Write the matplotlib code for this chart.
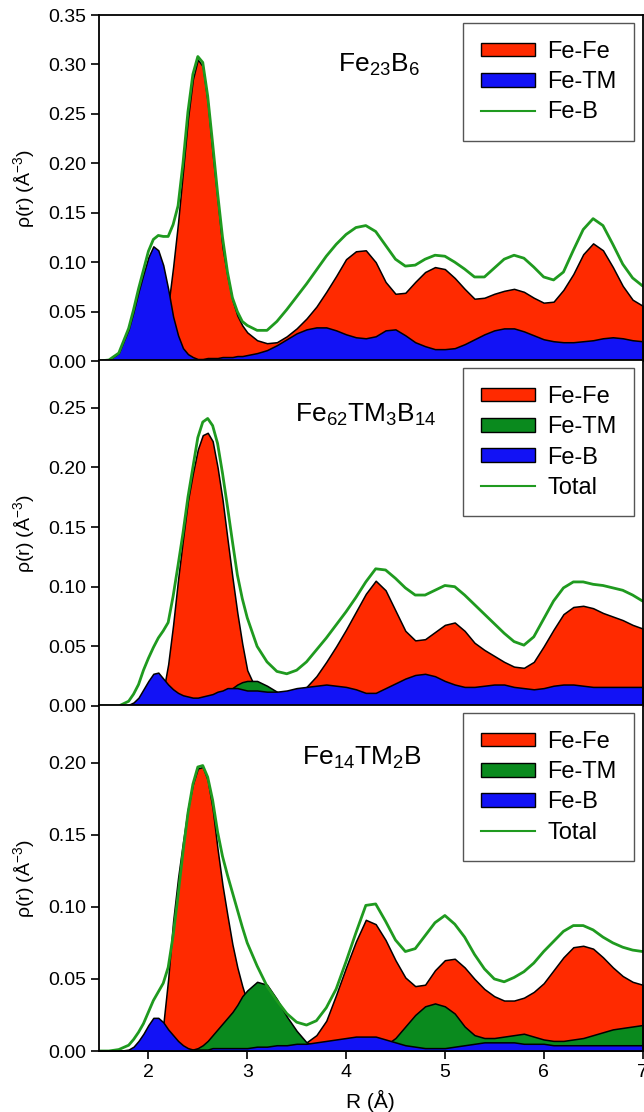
import numpy as np
import matplotlib
matplotlib.use("Agg")
import matplotlib.pyplot as plt
from matplotlib.patches import Patch
from matplotlib.lines import Line2D

plt.rcParams['font.family'] = ['Liberation Sans', 'DejaVu Sans']
plt.rcParams['mathtext.default'] = 'regular'

# ---------------- data ----------------
r = [1.5, 1.6, 1.7, 1.8, 1.85, 1.9, 1.95, 2.0, 2.05, 2.1, 2.15, 2.2, 2.25, 2.3, 2.35,
     2.4, 2.45, 2.5, 2.55, 2.6, 2.65, 2.7, 2.75, 2.8, 2.85, 2.9, 2.95, 3.0, 3.1, 3.2,
     3.3, 3.4, 3.5, 3.6, 3.7, 3.8, 3.9, 4.0, 4.1, 4.2, 4.3, 4.4, 4.5, 4.6, 4.7, 4.8,
     4.9, 5.0, 5.1, 5.2, 5.3, 5.4, 5.5, 5.6, 5.7, 5.8, 5.9, 6.0, 6.1, 6.2, 6.3, 6.4,
     6.5, 6.6, 6.7, 6.8, 6.9, 7.0]

# Fe23B6
p1_fefe = [0, 0, 0, 0, 0, 0, 0.001, 0.002, 0.005, 0.012, 0.028, 0.055, 0.095, 0.14, 0.192,
           0.245, 0.285, 0.305, 0.298, 0.262, 0.21, 0.163, 0.115, 0.086, 0.062, 0.046, 0.036, 0.029, 0.021, 0.018,
           0.019, 0.025, 0.033, 0.043, 0.055, 0.07, 0.086, 0.103, 0.111, 0.112, 0.1, 0.08, 0.068, 0.069, 0.08, 0.09,
           0.095, 0.093, 0.084, 0.073, 0.063, 0.064, 0.068, 0.071, 0.073, 0.07, 0.064, 0.059, 0.06, 0.072, 0.088, 0.108,
           0.119, 0.112, 0.095, 0.076, 0.062, 0.056]
p1_fetm = [0, 0.001, 0.008, 0.032, 0.05, 0.07, 0.088, 0.105, 0.116, 0.112, 0.097, 0.073, 0.045, 0.026, 0.013,
           0.007, 0.004, 0.002, 0.002, 0.003, 0.003, 0.003, 0.004, 0.004, 0.004, 0.005, 0.005, 0.006, 0.008, 0.011,
           0.016, 0.022, 0.028, 0.032, 0.034, 0.034, 0.031, 0.027, 0.024, 0.023, 0.025, 0.031, 0.032, 0.026, 0.019, 0.015,
           0.012, 0.012, 0.013, 0.017, 0.022, 0.027, 0.031, 0.033, 0.033, 0.030, 0.026, 0.022, 0.020, 0.019, 0.019, 0.020,
           0.021, 0.023, 0.024, 0.023, 0.021, 0.020]
p1_total = [0, 0.001, 0.008, 0.033, 0.052, 0.073, 0.092, 0.111, 0.123, 0.127, 0.126, 0.126, 0.138, 0.157, 0.2,
            0.252, 0.29, 0.308, 0.302, 0.268, 0.22, 0.17, 0.125, 0.09, 0.064, 0.05, 0.04, 0.036, 0.031, 0.031,
            0.04, 0.052, 0.065, 0.078, 0.092, 0.106, 0.118, 0.128, 0.135, 0.137, 0.131, 0.117, 0.103, 0.096, 0.097, 0.103,
            0.107, 0.106, 0.1, 0.093, 0.085, 0.085, 0.094, 0.103, 0.107, 0.104, 0.095, 0.085, 0.082, 0.09, 0.112, 0.133,
            0.144, 0.137, 0.118, 0.098, 0.084, 0.076]

# Fe62TM3B14
p2_fefe = [0, 0, 0, 0, 0, 0, 0, 0.002, 0.004, 0.008, 0.012, 0.035, 0.068, 0.106, 0.14,
           0.172, 0.195, 0.215, 0.227, 0.229, 0.222, 0.2, 0.173, 0.14, 0.108, 0.078, 0.052, 0.03, 0.012, 0.01,
           0.009, 0.009, 0.011, 0.016, 0.025, 0.037, 0.05, 0.064, 0.079, 0.094, 0.105, 0.097, 0.08, 0.063, 0.055, 0.056,
           0.062, 0.068, 0.07, 0.063, 0.053, 0.047, 0.042, 0.037, 0.033, 0.032, 0.037, 0.05, 0.064, 0.077, 0.083, 0.084,
           0.082, 0.078, 0.075, 0.072, 0.068, 0.065]
p2_fetm = [0, 0, 0, 0, 0, 0, 0, 0.001, 0.001, 0.002, 0.002, 0.002, 0.003, 0.003, 0.003,
           0.003, 0.004, 0.004, 0.004, 0.005, 0.005, 0.006, 0.008, 0.012, 0.015, 0.018, 0.020, 0.021, 0.021, 0.017,
           0.012, 0.007, 0.005, 0.005, 0.005, 0.005, 0.005, 0.005, 0.005, 0.005, 0.005, 0.005, 0.005, 0.005, 0.005, 0.005,
           0.005, 0.005, 0.005, 0.005, 0.005, 0.005, 0.005, 0.005, 0.005, 0.005, 0.005, 0.005, 0.005, 0.005, 0.005, 0.005,
           0.005, 0.005, 0.005, 0.005, 0.005, 0.005]
p2_feb = [0, 0, 0, 0.001, 0.003, 0.007, 0.014, 0.021, 0.027, 0.028, 0.023, 0.018, 0.014, 0.011, 0.009,
          0.008, 0.007, 0.007, 0.008, 0.009, 0.010, 0.012, 0.013, 0.015, 0.015, 0.015, 0.014, 0.013, 0.013, 0.012,
          0.012, 0.013, 0.015, 0.016, 0.017, 0.018, 0.017, 0.016, 0.014, 0.011, 0.011, 0.015, 0.019, 0.023, 0.026, 0.027,
          0.025, 0.021, 0.018, 0.016, 0.016, 0.017, 0.018, 0.018, 0.016, 0.015, 0.014, 0.015, 0.017, 0.018, 0.018, 0.017,
          0.016, 0.016, 0.016, 0.016, 0.016, 0.016]
p2_total = [0, 0, 0, 0.004, 0.01, 0.018, 0.03, 0.04, 0.049, 0.057, 0.063, 0.07, 0.092, 0.118, 0.145,
            0.175, 0.2, 0.225, 0.238, 0.241, 0.235, 0.22, 0.195, 0.167, 0.138, 0.11, 0.09, 0.074, 0.05, 0.037,
            0.029, 0.027, 0.03, 0.037, 0.047, 0.057, 0.068, 0.079, 0.091, 0.104, 0.115, 0.114, 0.107, 0.099, 0.093, 0.093,
            0.097, 0.101, 0.1, 0.093, 0.085, 0.077, 0.069, 0.061, 0.054, 0.051, 0.058, 0.073, 0.088, 0.099, 0.104, 0.104,
            0.102, 0.101, 0.099, 0.097, 0.093, 0.088]

# Fe14TM2B
p3_fefe = [0, 0, 0, 0, 0, 0, 0.001, 0.002, 0.005, 0.01, 0.018, 0.05, 0.09, 0.12, 0.145,
           0.168, 0.185, 0.196, 0.197, 0.188, 0.168, 0.14, 0.115, 0.094, 0.074, 0.058, 0.045, 0.034, 0.02, 0.01,
           0.006, 0.004, 0.004, 0.006, 0.011, 0.021, 0.039, 0.058, 0.076, 0.091, 0.088, 0.077, 0.063, 0.051, 0.045, 0.046,
           0.056, 0.063, 0.064, 0.058, 0.05, 0.043, 0.038, 0.035, 0.035, 0.037, 0.041, 0.047, 0.056, 0.065, 0.072, 0.073,
           0.071, 0.065, 0.058, 0.052, 0.048, 0.046]
p3_fetm = [0, 0, 0, 0, 0, 0, 0, 0, 0, 0, 0, 0, 0, 0, 0,
           0, 0.001, 0.002, 0.004, 0.007, 0.011, 0.015, 0.019, 0.023, 0.027, 0.032, 0.038, 0.042, 0.048, 0.046,
           0.036, 0.024, 0.014, 0.006, 0.003, 0.002, 0.002, 0.002, 0.002, 0.002, 0.002, 0.004, 0.009, 0.017, 0.025, 0.031,
           0.033, 0.031, 0.026, 0.017, 0.011, 0.009, 0.009, 0.010, 0.011, 0.012, 0.010, 0.008, 0.007, 0.007, 0.008, 0.009,
           0.011, 0.013, 0.015, 0.016, 0.017, 0.018]
p3_feb = [0, 0, 0, 0.001, 0.003, 0.007, 0.012, 0.018, 0.023, 0.023, 0.02, 0.015, 0.011, 0.007, 0.004,
          0.002, 0.001, 0.001, 0.001, 0.001, 0.002, 0.002, 0.002, 0.002, 0.002, 0.002, 0.002, 0.002, 0.003, 0.003,
          0.004, 0.004, 0.005, 0.005, 0.006, 0.007, 0.008, 0.009, 0.01, 0.01, 0.01, 0.008, 0.006, 0.004, 0.003, 0.002,
          0.002, 0.002, 0.003, 0.004, 0.005, 0.006, 0.006, 0.006, 0.006, 0.005, 0.005, 0.005, 0.004, 0.004, 0.004, 0.004,
          0.004, 0.004, 0.004, 0.004, 0.004, 0.004]
p3_total = [0, 0, 0.001, 0.004, 0.008, 0.013, 0.019, 0.027, 0.035, 0.041, 0.047, 0.058, 0.08, 0.108, 0.138,
            0.165, 0.185, 0.197, 0.198, 0.19, 0.174, 0.152, 0.135, 0.122, 0.11, 0.098, 0.086, 0.075, 0.059, 0.045,
            0.035, 0.026, 0.02, 0.018, 0.021, 0.03, 0.043, 0.062, 0.082, 0.101, 0.102, 0.09, 0.077, 0.069, 0.071, 0.08,
            0.089, 0.094, 0.088, 0.079, 0.067, 0.057, 0.05, 0.048, 0.051, 0.055, 0.061, 0.069, 0.076, 0.083, 0.087, 0.087,
            0.084, 0.079, 0.075, 0.072, 0.07, 0.069]

titles = [r'Fe$_{23}$B$_{6}$', r'Fe$_{62}$TM$_{3}$B$_{14}$', r'Fe$_{14}$TM$_{2}$B']
title_pos = [(3.92, 0.300), (3.48, 0.244), (3.55, 0.203)]
ylims = [0.35, 0.29, 0.24]

RED = '#ff2a00'
BLUE = '#1212f5'
GREEN = '#0a8a1e'
LINE = '#1f9a1f'

fig = plt.figure(figsize=(6.44, 11.12), dpi=100)
left, right = 99 / 644, 642.5 / 644
tops = [15, 360, 705]
h = 346

axes = []
for i in range(3):
    y0 = 1 - (tops[i] + h) / 1112
    ax = fig.add_axes([left, y0, right - left, h / 1112])
    axes.append(ax)

x = np.array(r)
fill_kw = dict(edgecolor='black', lw=1.1, joinstyle='round')
line_kw = dict(color=LINE, lw=2.0, solid_joinstyle='round', solid_capstyle='round')

# panel 1
ax = axes[0]
ax.fill_between(x, 0, p1_fefe, facecolor=RED, **fill_kw)
ax.fill_between(x, 0, p1_fetm, facecolor=BLUE, **fill_kw)
ax.plot(x, p1_total, **line_kw)
h1 = [Patch(facecolor=RED, edgecolor='black', label='Fe-Fe'),
      Patch(facecolor=BLUE, edgecolor='black', label='Fe-TM'),
      Line2D([], [], color=LINE, lw=1.5, label='Fe-B')]

# panels 2 and 3
for ax, fefe, fetm, feb, tot in [(axes[1], p2_fefe, p2_fetm, p2_feb, p2_total),
                                  (axes[2], p3_fefe, p3_fetm, p3_feb, p3_total)]:
    ax.fill_between(x, 0, fefe, facecolor=RED, **fill_kw)
    ax.fill_between(x, 0, fetm, facecolor=GREEN, **fill_kw)
    ax.fill_between(x, 0, feb, facecolor=BLUE, **fill_kw)
    ax.plot(x, tot, **line_kw)
h2 = [Patch(facecolor=RED, edgecolor='black', label='Fe-Fe'),
      Patch(facecolor=GREEN, edgecolor='black', label='Fe-TM'),
      Patch(facecolor=BLUE, edgecolor='black', label='Fe-B'),
      Line2D([], [], color=LINE, lw=1.5, label='Total')]

for i, ax in enumerate(axes):
    ax.set_xlim(1.5, 7.0)
    ax.set_ylim(0, ylims[i])
    ax.set_yticks(np.arange(0, ylims[i] + 1e-6, 0.05))
    ax.yaxis.set_major_formatter(matplotlib.ticker.FormatStrFormatter('%.2f'))
    ax.tick_params(axis='y', direction='out', length=6, width=1.2, labelsize=14)
    ax.tick_params(axis='x', direction='out', length=6, width=1.2, labelsize=14)
    for s in ax.spines.values():
        s.set_linewidth(1.3)
    ax.set_ylabel(r'ρ(r) (Å$^{-3}$)', fontsize=14, labelpad=8)
    tx, ty = title_pos[i]
    ax.text(tx, ty, titles[i], fontsize=19, va='center', ha='left')
    leg = ax.legend(handles=h1 if i == 0 else h2, loc='upper right', fontsize=17,
                    frameon=True, fancybox=False, framealpha=1, edgecolor='#555555',
                    handlelength=2.3, handleheight=0.5, labelspacing=0.35,
                    borderaxespad=0.35, borderpad=0.75, handletextpad=0.5)
    leg.get_frame().set_linewidth(1.0)
    if i < 2:
        ax.tick_params(axis='x', bottom=False, labelbottom=False)

axes[2].set_xticks([2, 3, 4, 5, 6, 7])
axes[2].set_xlabel('R (Å)', fontsize=15, labelpad=6)

fig.savefig('out.png', dpi=100)
